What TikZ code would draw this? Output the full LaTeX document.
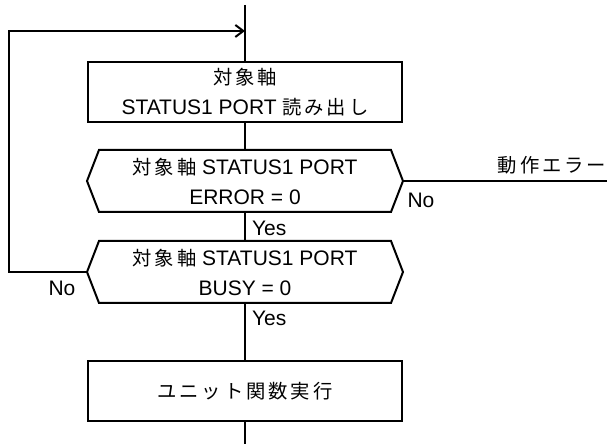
\documentclass[tikz,border=0pt]{standalone}
\usepackage{fontspec}
\setmainfont{Liberation Sans}
\newfontfamily\jp{Noto Sans CJK JP}[Scale=0.92,LetterSpace=15]
\usetikzlibrary{arrows.meta}

\tikzset{
  procbox/.style={draw, minimum width=157pt, minimum height=30pt, align=center, inner sep=0pt},
  chkbox/.style={minimum width=145pt, minimum height=30pt, align=center, inner sep=0pt},
  lbl/.style={inner sep=0pt}
}

\begin{document}
\begin{tikzpicture}[x=0.5pt,y=-0.5pt,line width=1pt,
    font=\fontsize{10.5}{15}\selectfont]
                \useasboundingbox (0,0) rectangle (607,444);
                % process boxes
                \node[procbox] (rd) at (245,92) {{\jp 対象軸}\\STATUS1 PORT {\jp 読み出し}};
                \node[procbox] (unit) at (245,391.5) {\jp ユニット関数実行};
                % decisions
                \node[chkbox] (err) at (245,181) {{\jp 対象軸} STATUS1 PORT\\ERROR = 0};
                \node[chkbox] (busy) at (245,272) {{\jp 対象軸} STATUS1 PORT\\BUSY = 0};
                \foreach \n in {err,busy}
                  \draw (\n.north west) -- (\n.north east) -- ([xshift=6pt]\n.east)
                    -- (\n.south east) -- (\n.south west) -- ([xshift=-6pt]\n.west) -- cycle;
                % main line
                \coordinate (top) at (245,5);
                \coordinate (bot) at (245,444);
                \coordinate (join) at (245,31);
                \coordinate (lp) at (9,31);
                \coordinate (errend) at (607,181);
                \draw (top) -- (rd.north);
                \draw (rd.south) -- (err.north);
                \draw (err.south) -- (busy.north);
                \draw (busy.south) -- (unit.north);
                \draw (unit.south) -- (bot);
                % loop back
                \draw[-{Straight Barb[length=4pt,width=6pt]}] ([xshift=-6pt]busy.west) -| (lp) -- (join);
                % error exit
                \draw ([xshift=6pt]err.east) -- (errend)
                  node[lbl, above left, yshift=3pt] (errtxt) {\jp 動作エラー};
                % labels
                \node[lbl, anchor=west] (yes1) at (251,228) {Yes};
                \node[lbl, anchor=west] (yes2) at (251,318) {Yes};
                \node[lbl] (no1) at (421,200) {No};
                \node[lbl] (no2) at (62,288) {No};
            \end{tikzpicture}
\end{document}
